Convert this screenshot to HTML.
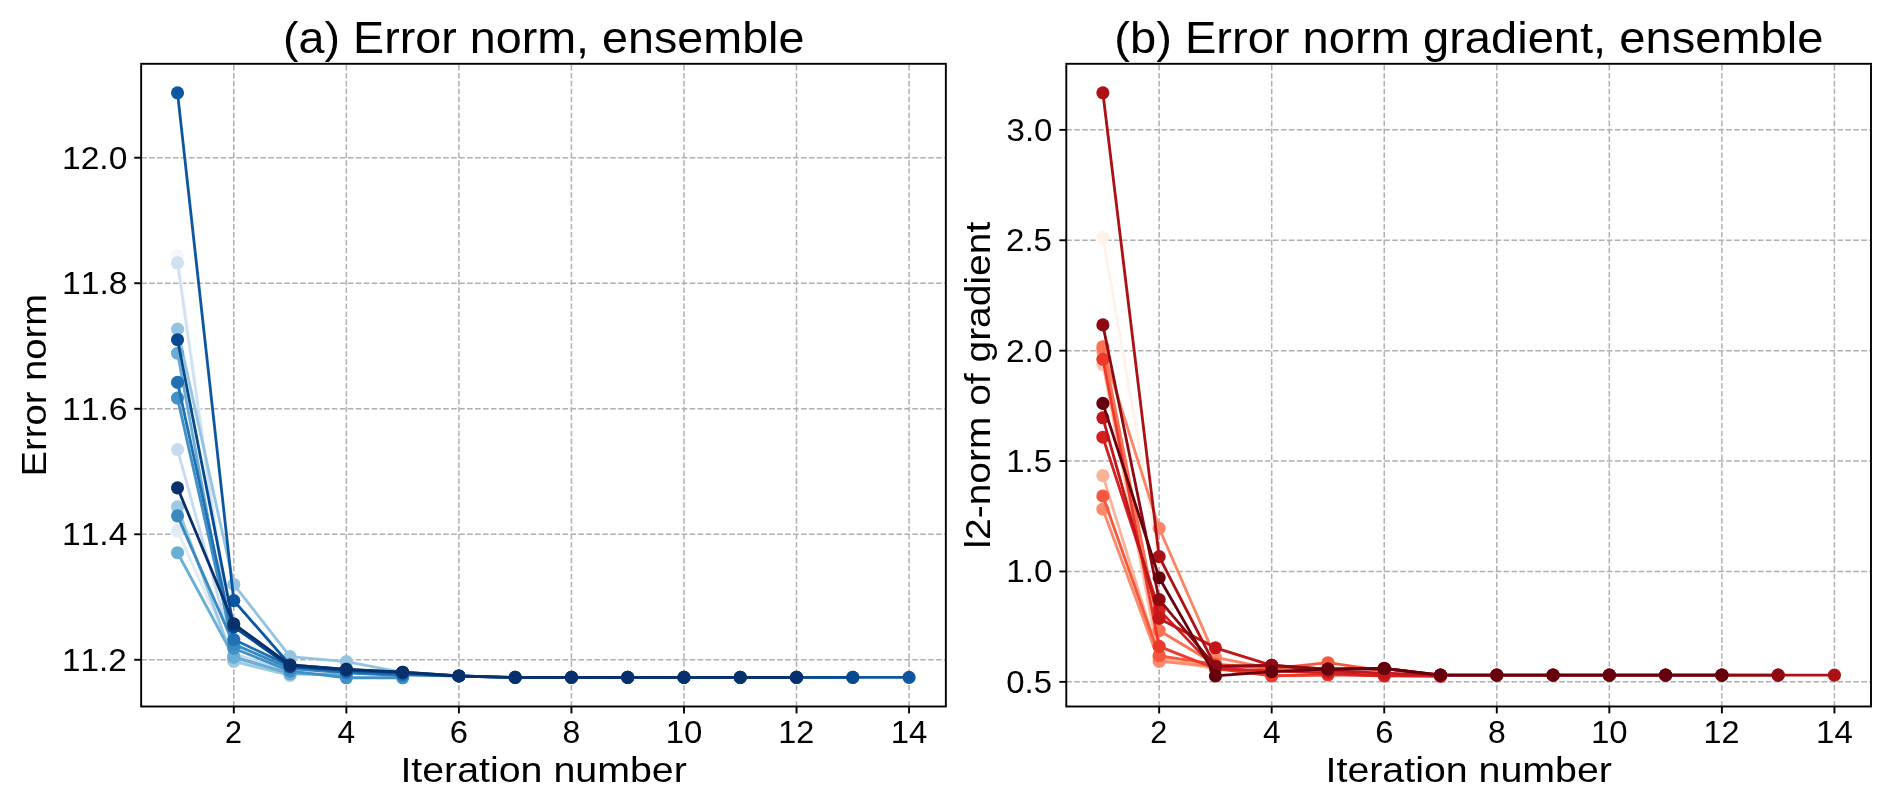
<!DOCTYPE html>
<html><head><meta charset="utf-8"><title>Error norm, ensemble</title>
<style>
html,body{margin:0;padding:0;background:#fff;}
svg{display:block;will-change:transform;}
text{font-family:"Liberation Sans",sans-serif;fill:#000;font-kerning:none;}
</style></head>
<body>
<svg width="1892" height="801" viewBox="0 0 1892 801">
<rect width="1892" height="801" fill="#fff"/>
<line x1="233.80" y1="706.50" x2="233.80" y2="63.80" stroke="#b0b0b0" stroke-width="1.500" stroke-dasharray="5.550 2.400"/>
<line x1="346.35" y1="706.50" x2="346.35" y2="63.80" stroke="#b0b0b0" stroke-width="1.500" stroke-dasharray="5.550 2.400"/>
<line x1="458.89" y1="706.50" x2="458.89" y2="63.80" stroke="#b0b0b0" stroke-width="1.500" stroke-dasharray="5.550 2.400"/>
<line x1="571.44" y1="706.50" x2="571.44" y2="63.80" stroke="#b0b0b0" stroke-width="1.500" stroke-dasharray="5.550 2.400"/>
<line x1="683.98" y1="706.50" x2="683.98" y2="63.80" stroke="#b0b0b0" stroke-width="1.500" stroke-dasharray="5.550 2.400"/>
<line x1="796.53" y1="706.50" x2="796.53" y2="63.80" stroke="#b0b0b0" stroke-width="1.500" stroke-dasharray="5.550 2.400"/>
<line x1="909.07" y1="706.50" x2="909.07" y2="63.80" stroke="#b0b0b0" stroke-width="1.500" stroke-dasharray="5.550 2.400"/>
<line x1="141.15" y1="659.79" x2="945.85" y2="659.79" stroke="#b0b0b0" stroke-width="1.500" stroke-dasharray="5.550 2.400"/>
<line x1="141.15" y1="534.27" x2="945.85" y2="534.27" stroke="#b0b0b0" stroke-width="1.500" stroke-dasharray="5.550 2.400"/>
<line x1="141.15" y1="408.76" x2="945.85" y2="408.76" stroke="#b0b0b0" stroke-width="1.500" stroke-dasharray="5.550 2.400"/>
<line x1="141.15" y1="283.24" x2="945.85" y2="283.24" stroke="#b0b0b0" stroke-width="1.500" stroke-dasharray="5.550 2.400"/>
<line x1="141.15" y1="157.73" x2="945.85" y2="157.73" stroke="#b0b0b0" stroke-width="1.500" stroke-dasharray="5.550 2.400"/>
<polyline points="177.53,255.63 233.80,650.38 290.07,669.20 346.35,674.22" fill="none" stroke="#f2f7fd" stroke-width="2.812" stroke-linejoin="round" stroke-linecap="butt"/>
<circle cx="177.53" cy="255.63" r="6.562" fill="#f2f7fd"/>
<circle cx="233.80" cy="650.38" r="6.562" fill="#f2f7fd"/>
<circle cx="290.07" cy="669.20" r="6.562" fill="#f2f7fd"/>
<circle cx="346.35" cy="674.22" r="6.562" fill="#f2f7fd"/>
<polyline points="177.53,530.82 233.80,656.65 290.07,672.34" fill="none" stroke="#dfecf7" stroke-width="2.812" stroke-linejoin="round" stroke-linecap="butt"/>
<circle cx="177.53" cy="530.82" r="6.562" fill="#dfecf7"/>
<circle cx="233.80" cy="656.65" r="6.562" fill="#dfecf7"/>
<circle cx="290.07" cy="672.34" r="6.562" fill="#dfecf7"/>
<polyline points="177.53,262.85 233.80,659.79 290.07,673.60 346.35,675.48" fill="none" stroke="#d0e1f2" stroke-width="2.812" stroke-linejoin="round" stroke-linecap="butt"/>
<circle cx="177.53" cy="262.85" r="6.562" fill="#d0e1f2"/>
<circle cx="233.80" cy="659.79" r="6.562" fill="#d0e1f2"/>
<circle cx="290.07" cy="673.60" r="6.562" fill="#d0e1f2"/>
<circle cx="346.35" cy="675.48" r="6.562" fill="#d0e1f2"/>
<polyline points="177.53,449.55 233.80,653.51 290.07,672.34" fill="none" stroke="#c6dbef" stroke-width="2.812" stroke-linejoin="round" stroke-linecap="butt"/>
<circle cx="177.53" cy="449.55" r="6.562" fill="#c6dbef"/>
<circle cx="233.80" cy="653.51" r="6.562" fill="#c6dbef"/>
<circle cx="290.07" cy="672.34" r="6.562" fill="#c6dbef"/>
<polyline points="177.53,506.79 233.80,661.42 290.07,675.48" fill="none" stroke="#9dcae1" stroke-width="2.812" stroke-linejoin="round" stroke-linecap="butt"/>
<circle cx="177.53" cy="506.79" r="6.562" fill="#9dcae1"/>
<circle cx="233.80" cy="661.42" r="6.562" fill="#9dcae1"/>
<circle cx="290.07" cy="675.48" r="6.562" fill="#9dcae1"/>
<polyline points="177.53,329.18 233.80,584.48 290.07,656.53 346.35,661.67 402.62,672.34" fill="none" stroke="#94c4df" stroke-width="2.812" stroke-linejoin="round" stroke-linecap="butt"/>
<circle cx="177.53" cy="329.18" r="6.562" fill="#94c4df"/>
<circle cx="233.80" cy="584.48" r="6.562" fill="#94c4df"/>
<circle cx="290.07" cy="656.53" r="6.562" fill="#94c4df"/>
<circle cx="346.35" cy="661.67" r="6.562" fill="#94c4df"/>
<circle cx="402.62" cy="672.34" r="6.562" fill="#94c4df"/>
<polyline points="177.53,353.22 233.80,657.03 290.07,673.60 346.35,674.85" fill="none" stroke="#6aaed6" stroke-width="2.812" stroke-linejoin="round" stroke-linecap="butt"/>
<circle cx="177.53" cy="353.22" r="6.562" fill="#6aaed6"/>
<circle cx="233.80" cy="657.03" r="6.562" fill="#6aaed6"/>
<circle cx="290.07" cy="673.60" r="6.562" fill="#6aaed6"/>
<circle cx="346.35" cy="674.85" r="6.562" fill="#6aaed6"/>
<polyline points="177.53,552.73 233.80,657.03 290.07,673.60" fill="none" stroke="#6aaed6" stroke-width="2.812" stroke-linejoin="round" stroke-linecap="butt"/>
<circle cx="177.53" cy="552.73" r="6.562" fill="#6aaed6"/>
<circle cx="233.80" cy="657.03" r="6.562" fill="#6aaed6"/>
<circle cx="290.07" cy="673.60" r="6.562" fill="#6aaed6"/>
<polyline points="177.53,398.09 233.80,648.31 290.07,671.09 346.35,677.74 402.62,677.74" fill="none" stroke="#4191c6" stroke-width="2.812" stroke-linejoin="round" stroke-linecap="butt"/>
<circle cx="177.53" cy="398.09" r="6.562" fill="#4191c6"/>
<circle cx="233.80" cy="648.31" r="6.562" fill="#4191c6"/>
<circle cx="290.07" cy="671.09" r="6.562" fill="#4191c6"/>
<circle cx="346.35" cy="677.74" r="6.562" fill="#4191c6"/>
<circle cx="402.62" cy="677.74" r="6.562" fill="#4191c6"/>
<polyline points="177.53,515.82 233.80,644.10 290.07,668.58 346.35,672.97 402.62,675.48" fill="none" stroke="#3989c1" stroke-width="2.812" stroke-linejoin="round" stroke-linecap="butt"/>
<circle cx="177.53" cy="515.82" r="6.562" fill="#3989c1"/>
<circle cx="233.80" cy="644.10" r="6.562" fill="#3989c1"/>
<circle cx="290.07" cy="668.58" r="6.562" fill="#3989c1"/>
<circle cx="346.35" cy="672.97" r="6.562" fill="#3989c1"/>
<circle cx="402.62" cy="675.48" r="6.562" fill="#3989c1"/>
<polyline points="177.53,382.40 233.80,639.52 290.07,666.07 346.35,672.34 402.62,674.85 458.89,675.98" fill="none" stroke="#2070b4" stroke-width="2.812" stroke-linejoin="round" stroke-linecap="butt"/>
<circle cx="177.53" cy="382.40" r="6.562" fill="#2070b4"/>
<circle cx="233.80" cy="639.52" r="6.562" fill="#2070b4"/>
<circle cx="290.07" cy="666.07" r="6.562" fill="#2070b4"/>
<circle cx="346.35" cy="672.34" r="6.562" fill="#2070b4"/>
<circle cx="402.62" cy="674.85" r="6.562" fill="#2070b4"/>
<circle cx="458.89" cy="675.98" r="6.562" fill="#2070b4"/>
<polyline points="177.53,92.78 233.80,600.61 290.07,665.00 346.35,669.39 402.62,672.22 458.89,675.98 515.16,677.42 571.44,677.42 627.71,677.42 683.98,677.42 740.25,677.42 796.53,677.42 852.80,677.42 909.07,677.42" fill="none" stroke="#0d57a1" stroke-width="2.812" stroke-linejoin="round" stroke-linecap="butt"/>
<circle cx="177.53" cy="92.78" r="6.562" fill="#0d57a1"/>
<circle cx="233.80" cy="600.61" r="6.562" fill="#0d57a1"/>
<circle cx="290.07" cy="665.00" r="6.562" fill="#0d57a1"/>
<circle cx="346.35" cy="669.39" r="6.562" fill="#0d57a1"/>
<circle cx="402.62" cy="672.22" r="6.562" fill="#0d57a1"/>
<circle cx="458.89" cy="675.98" r="6.562" fill="#0d57a1"/>
<circle cx="515.16" cy="677.42" r="6.562" fill="#0d57a1"/>
<circle cx="571.44" cy="677.42" r="6.562" fill="#0d57a1"/>
<circle cx="627.71" cy="677.42" r="6.562" fill="#0d57a1"/>
<circle cx="683.98" cy="677.42" r="6.562" fill="#0d57a1"/>
<circle cx="740.25" cy="677.42" r="6.562" fill="#0d57a1"/>
<circle cx="796.53" cy="677.42" r="6.562" fill="#0d57a1"/>
<circle cx="852.80" cy="677.42" r="6.562" fill="#0d57a1"/>
<circle cx="909.07" cy="677.42" r="6.562" fill="#0d57a1"/>
<polyline points="177.53,339.73 233.80,626.91 290.07,666.69 346.35,670.46 402.62,672.97 458.89,675.98 515.16,677.42 571.44,677.42 627.71,677.42 683.98,677.42 740.25,677.42 796.53,677.42 852.80,677.42" fill="none" stroke="#084a91" stroke-width="2.812" stroke-linejoin="round" stroke-linecap="butt"/>
<circle cx="177.53" cy="339.73" r="6.562" fill="#084a91"/>
<circle cx="233.80" cy="626.91" r="6.562" fill="#084a91"/>
<circle cx="290.07" cy="666.69" r="6.562" fill="#084a91"/>
<circle cx="346.35" cy="670.46" r="6.562" fill="#084a91"/>
<circle cx="402.62" cy="672.97" r="6.562" fill="#084a91"/>
<circle cx="458.89" cy="675.98" r="6.562" fill="#084a91"/>
<circle cx="515.16" cy="677.42" r="6.562" fill="#084a91"/>
<circle cx="571.44" cy="677.42" r="6.562" fill="#084a91"/>
<circle cx="627.71" cy="677.42" r="6.562" fill="#084a91"/>
<circle cx="683.98" cy="677.42" r="6.562" fill="#084a91"/>
<circle cx="740.25" cy="677.42" r="6.562" fill="#084a91"/>
<circle cx="796.53" cy="677.42" r="6.562" fill="#084a91"/>
<circle cx="852.80" cy="677.42" r="6.562" fill="#084a91"/>
<polyline points="177.53,487.83 233.80,623.77 290.07,665.00 346.35,669.39 402.62,672.22 458.89,675.98 515.16,677.42 571.44,677.42 627.71,677.42 683.98,677.42 740.25,677.42 796.53,677.42" fill="none" stroke="#08306b" stroke-width="2.812" stroke-linejoin="round" stroke-linecap="butt"/>
<circle cx="177.53" cy="487.83" r="6.562" fill="#08306b"/>
<circle cx="233.80" cy="623.77" r="6.562" fill="#08306b"/>
<circle cx="290.07" cy="665.00" r="6.562" fill="#08306b"/>
<circle cx="346.35" cy="669.39" r="6.562" fill="#08306b"/>
<circle cx="402.62" cy="672.22" r="6.562" fill="#08306b"/>
<circle cx="458.89" cy="675.98" r="6.562" fill="#08306b"/>
<circle cx="515.16" cy="677.42" r="6.562" fill="#08306b"/>
<circle cx="571.44" cy="677.42" r="6.562" fill="#08306b"/>
<circle cx="627.71" cy="677.42" r="6.562" fill="#08306b"/>
<circle cx="683.98" cy="677.42" r="6.562" fill="#08306b"/>
<circle cx="740.25" cy="677.42" r="6.562" fill="#08306b"/>
<circle cx="796.53" cy="677.42" r="6.562" fill="#08306b"/>
<rect x="141.15" y="63.80" width="804.70" height="642.70" fill="none" stroke="#000" stroke-width="1.900" stroke-linejoin="miter"/>
<line x1="233.80" y1="706.50" x2="233.80" y2="713.40" stroke="#000" stroke-width="1.900"/>
<line x1="346.35" y1="706.50" x2="346.35" y2="713.40" stroke="#000" stroke-width="1.900"/>
<line x1="458.89" y1="706.50" x2="458.89" y2="713.40" stroke="#000" stroke-width="1.900"/>
<line x1="571.44" y1="706.50" x2="571.44" y2="713.40" stroke="#000" stroke-width="1.900"/>
<line x1="683.98" y1="706.50" x2="683.98" y2="713.40" stroke="#000" stroke-width="1.900"/>
<line x1="796.53" y1="706.50" x2="796.53" y2="713.40" stroke="#000" stroke-width="1.900"/>
<line x1="909.07" y1="706.50" x2="909.07" y2="713.40" stroke="#000" stroke-width="1.900"/>
<line x1="134.25" y1="659.79" x2="141.15" y2="659.79" stroke="#000" stroke-width="1.900"/>
<line x1="134.25" y1="534.27" x2="141.15" y2="534.27" stroke="#000" stroke-width="1.900"/>
<line x1="134.25" y1="408.76" x2="141.15" y2="408.76" stroke="#000" stroke-width="1.900"/>
<line x1="134.25" y1="283.24" x2="141.15" y2="283.24" stroke="#000" stroke-width="1.900"/>
<line x1="134.25" y1="157.73" x2="141.15" y2="157.73" stroke="#000" stroke-width="1.900"/>
<text transform="translate(224.92,742.70) scale(0.9589,1)" font-size="31.79">2</text>
<text transform="translate(337.54,742.70) scale(0.9950,1)" font-size="31.79">4</text>
<text transform="translate(449.78,742.70) scale(1.0296,1)" font-size="31.79">6</text>
<text transform="translate(562.54,742.70) scale(1.0056,1)" font-size="31.79">8</text>
<text transform="translate(665.68,742.70) scale(1.0376,1)" font-size="31.79">10</text>
<text transform="translate(778.27,742.70) scale(1.0171,1)" font-size="31.79">12</text>
<text transform="translate(890.77,742.70) scale(1.0371,1)" font-size="31.79">14</text>
<text transform="translate(62.00,670.69) scale(1.0458,1)" font-size="31.79">11.2</text>
<text transform="translate(61.98,545.17) scale(1.0564,1)" font-size="31.79">11.4</text>
<text transform="translate(61.97,419.66) scale(1.0613,1)" font-size="31.79">11.6</text>
<text transform="translate(61.97,294.14) scale(1.0583,1)" font-size="31.79">11.8</text>
<text transform="translate(61.98,168.63) scale(1.0568,1)" font-size="31.79">12.0</text>
<text transform="translate(400.38,781.60) scale(1.1005,1)" font-size="35.76">Iteration number</text>
<text transform="translate(283.04,52.60) scale(1.0680,1)" font-size="43.71">(a) Error norm, ensemble</text>
<text transform="rotate(-90) translate(-476.53,45.70) scale(1.0686,1)" font-size="35.76">Error norm</text>
<line x1="1159.15" y1="706.50" x2="1159.15" y2="63.80" stroke="#b0b0b0" stroke-width="1.500" stroke-dasharray="5.550 2.400"/>
<line x1="1271.70" y1="706.50" x2="1271.70" y2="63.80" stroke="#b0b0b0" stroke-width="1.500" stroke-dasharray="5.550 2.400"/>
<line x1="1384.24" y1="706.50" x2="1384.24" y2="63.80" stroke="#b0b0b0" stroke-width="1.500" stroke-dasharray="5.550 2.400"/>
<line x1="1496.79" y1="706.50" x2="1496.79" y2="63.80" stroke="#b0b0b0" stroke-width="1.500" stroke-dasharray="5.550 2.400"/>
<line x1="1609.33" y1="706.50" x2="1609.33" y2="63.80" stroke="#b0b0b0" stroke-width="1.500" stroke-dasharray="5.550 2.400"/>
<line x1="1721.88" y1="706.50" x2="1721.88" y2="63.80" stroke="#b0b0b0" stroke-width="1.500" stroke-dasharray="5.550 2.400"/>
<line x1="1834.42" y1="706.50" x2="1834.42" y2="63.80" stroke="#b0b0b0" stroke-width="1.500" stroke-dasharray="5.550 2.400"/>
<line x1="1066.30" y1="681.86" x2="1871.00" y2="681.86" stroke="#b0b0b0" stroke-width="1.500" stroke-dasharray="5.550 2.400"/>
<line x1="1066.30" y1="571.46" x2="1871.00" y2="571.46" stroke="#b0b0b0" stroke-width="1.500" stroke-dasharray="5.550 2.400"/>
<line x1="1066.30" y1="461.06" x2="1871.00" y2="461.06" stroke="#b0b0b0" stroke-width="1.500" stroke-dasharray="5.550 2.400"/>
<line x1="1066.30" y1="350.66" x2="1871.00" y2="350.66" stroke="#b0b0b0" stroke-width="1.500" stroke-dasharray="5.550 2.400"/>
<line x1="1066.30" y1="240.26" x2="1871.00" y2="240.26" stroke="#b0b0b0" stroke-width="1.500" stroke-dasharray="5.550 2.400"/>
<line x1="1066.30" y1="129.86" x2="1871.00" y2="129.86" stroke="#b0b0b0" stroke-width="1.500" stroke-dasharray="5.550 2.400"/>
<polyline points="1102.88,237.61 1159.15,560.42 1215.42,659.78 1271.70,668.61" fill="none" stroke="#fff2eb" stroke-width="2.812" stroke-linejoin="round" stroke-linecap="butt"/>
<circle cx="1102.88" cy="237.61" r="6.562" fill="#fff2eb"/>
<circle cx="1159.15" cy="560.42" r="6.562" fill="#fff2eb"/>
<circle cx="1215.42" cy="659.78" r="6.562" fill="#fff2eb"/>
<circle cx="1271.70" cy="668.61" r="6.562" fill="#fff2eb"/>
<polyline points="1102.88,364.57 1159.15,659.78 1215.42,668.61" fill="none" stroke="#fcc4ad" stroke-width="2.812" stroke-linejoin="round" stroke-linecap="butt"/>
<circle cx="1102.88" cy="364.57" r="6.562" fill="#fcc4ad"/>
<circle cx="1159.15" cy="659.78" r="6.562" fill="#fcc4ad"/>
<circle cx="1215.42" cy="668.61" r="6.562" fill="#fcc4ad"/>
<polyline points="1102.88,352.87 1159.15,655.36 1215.42,666.40" fill="none" stroke="#fcbba1" stroke-width="2.812" stroke-linejoin="round" stroke-linecap="butt"/>
<circle cx="1102.88" cy="352.87" r="6.562" fill="#fcbba1"/>
<circle cx="1159.15" cy="655.36" r="6.562" fill="#fcbba1"/>
<circle cx="1215.42" cy="666.40" r="6.562" fill="#fcbba1"/>
<polyline points="1102.88,475.63 1159.15,657.57 1215.42,668.61" fill="none" stroke="#fcb296" stroke-width="2.812" stroke-linejoin="round" stroke-linecap="butt"/>
<circle cx="1102.88" cy="475.63" r="6.562" fill="#fcb296"/>
<circle cx="1159.15" cy="657.57" r="6.562" fill="#fcb296"/>
<circle cx="1215.42" cy="668.61" r="6.562" fill="#fcb296"/>
<polyline points="1102.88,509.19 1159.15,661.39 1215.42,666.40" fill="none" stroke="#fc8a6a" stroke-width="2.812" stroke-linejoin="round" stroke-linecap="butt"/>
<circle cx="1102.88" cy="509.19" r="6.562" fill="#fc8a6a"/>
<circle cx="1159.15" cy="661.39" r="6.562" fill="#fc8a6a"/>
<circle cx="1215.42" cy="666.40" r="6.562" fill="#fc8a6a"/>
<polyline points="1102.88,349.56 1159.15,528.29 1215.42,657.40 1271.70,668.61 1327.97,671.92" fill="none" stroke="#fc8464" stroke-width="2.812" stroke-linejoin="round" stroke-linecap="butt"/>
<circle cx="1102.88" cy="349.56" r="6.562" fill="#fc8464"/>
<circle cx="1159.15" cy="528.29" r="6.562" fill="#fc8464"/>
<circle cx="1215.42" cy="657.40" r="6.562" fill="#fc8464"/>
<circle cx="1271.70" cy="668.61" r="6.562" fill="#fc8464"/>
<circle cx="1327.97" cy="671.92" r="6.562" fill="#fc8464"/>
<polyline points="1102.88,346.69 1159.15,630.50 1215.42,664.20 1271.70,675.74 1327.97,674.79" fill="none" stroke="#fb7151" stroke-width="2.812" stroke-linejoin="round" stroke-linecap="butt"/>
<circle cx="1102.88" cy="346.69" r="6.562" fill="#fb7151"/>
<circle cx="1159.15" cy="630.50" r="6.562" fill="#fb7151"/>
<circle cx="1215.42" cy="664.20" r="6.562" fill="#fb7151"/>
<circle cx="1271.70" cy="675.74" r="6.562" fill="#fb7151"/>
<circle cx="1327.97" cy="674.79" r="6.562" fill="#fb7151"/>
<polyline points="1102.88,495.95 1159.15,655.81 1215.42,664.20 1271.70,668.61 1327.97,662.69 1384.24,670.82" fill="none" stroke="#f6583e" stroke-width="2.812" stroke-linejoin="round" stroke-linecap="butt"/>
<circle cx="1102.88" cy="495.95" r="6.562" fill="#f6583e"/>
<circle cx="1159.15" cy="655.81" r="6.562" fill="#f6583e"/>
<circle cx="1215.42" cy="664.20" r="6.562" fill="#f6583e"/>
<circle cx="1271.70" cy="668.61" r="6.562" fill="#f6583e"/>
<circle cx="1327.97" cy="662.69" r="6.562" fill="#f6583e"/>
<circle cx="1384.24" cy="670.82" r="6.562" fill="#f6583e"/>
<polyline points="1102.88,359.27 1159.15,646.40 1215.42,668.61 1271.70,675.74 1327.97,674.79 1384.24,675.74" fill="none" stroke="#ed392b" stroke-width="2.812" stroke-linejoin="round" stroke-linecap="butt"/>
<circle cx="1102.88" cy="359.27" r="6.562" fill="#ed392b"/>
<circle cx="1159.15" cy="646.40" r="6.562" fill="#ed392b"/>
<circle cx="1215.42" cy="668.61" r="6.562" fill="#ed392b"/>
<circle cx="1271.70" cy="675.74" r="6.562" fill="#ed392b"/>
<circle cx="1327.97" cy="674.79" r="6.562" fill="#ed392b"/>
<circle cx="1384.24" cy="675.74" r="6.562" fill="#ed392b"/>
<polyline points="1102.88,437.21 1159.15,609.90 1215.42,668.61 1271.70,670.82 1327.97,673.03 1384.24,675.74 1440.51,676.34" fill="none" stroke="#d32020" stroke-width="2.812" stroke-linejoin="round" stroke-linecap="butt"/>
<circle cx="1102.88" cy="437.21" r="6.562" fill="#d32020"/>
<circle cx="1159.15" cy="609.90" r="6.562" fill="#d32020"/>
<circle cx="1215.42" cy="668.61" r="6.562" fill="#d32020"/>
<circle cx="1271.70" cy="670.82" r="6.562" fill="#d32020"/>
<circle cx="1327.97" cy="673.03" r="6.562" fill="#d32020"/>
<circle cx="1384.24" cy="675.74" r="6.562" fill="#d32020"/>
<circle cx="1440.51" cy="676.34" r="6.562" fill="#d32020"/>
<polyline points="1102.88,417.78 1159.15,618.40 1215.42,647.79 1271.70,665.37 1327.97,670.82 1384.24,673.03 1440.51,675.24" fill="none" stroke="#c2161b" stroke-width="2.812" stroke-linejoin="round" stroke-linecap="butt"/>
<circle cx="1102.88" cy="417.78" r="6.562" fill="#c2161b"/>
<circle cx="1159.15" cy="618.40" r="6.562" fill="#c2161b"/>
<circle cx="1215.42" cy="647.79" r="6.562" fill="#c2161b"/>
<circle cx="1271.70" cy="665.37" r="6.562" fill="#c2161b"/>
<circle cx="1327.97" cy="670.82" r="6.562" fill="#c2161b"/>
<circle cx="1384.24" cy="673.03" r="6.562" fill="#c2161b"/>
<circle cx="1440.51" cy="675.24" r="6.562" fill="#c2161b"/>
<polyline points="1102.88,92.77 1159.15,556.60 1215.42,666.29 1271.70,665.37 1327.97,669.05 1384.24,668.50 1440.51,675.13 1496.79,675.13 1553.06,675.13 1609.33,675.13 1665.60,675.13 1721.88,675.13 1778.15,675.13 1834.42,675.13" fill="none" stroke="#ac1117" stroke-width="2.812" stroke-linejoin="round" stroke-linecap="butt"/>
<circle cx="1102.88" cy="92.77" r="6.562" fill="#ac1117"/>
<circle cx="1159.15" cy="556.60" r="6.562" fill="#ac1117"/>
<circle cx="1215.42" cy="666.29" r="6.562" fill="#ac1117"/>
<circle cx="1271.70" cy="665.37" r="6.562" fill="#ac1117"/>
<circle cx="1327.97" cy="669.05" r="6.562" fill="#ac1117"/>
<circle cx="1384.24" cy="668.50" r="6.562" fill="#ac1117"/>
<circle cx="1440.51" cy="675.13" r="6.562" fill="#ac1117"/>
<circle cx="1496.79" cy="675.13" r="6.562" fill="#ac1117"/>
<circle cx="1553.06" cy="675.13" r="6.562" fill="#ac1117"/>
<circle cx="1609.33" cy="675.13" r="6.562" fill="#ac1117"/>
<circle cx="1665.60" cy="675.13" r="6.562" fill="#ac1117"/>
<circle cx="1721.88" cy="675.13" r="6.562" fill="#ac1117"/>
<circle cx="1778.15" cy="675.13" r="6.562" fill="#ac1117"/>
<circle cx="1834.42" cy="675.13" r="6.562" fill="#ac1117"/>
<polyline points="1102.88,324.91 1159.15,599.59 1215.42,666.29 1271.70,665.37 1327.97,669.05 1384.24,668.50 1440.51,675.13 1496.79,675.13 1553.06,675.13 1609.33,675.13 1665.60,675.13 1721.88,675.13 1778.15,675.13" fill="none" stroke="#8e0912" stroke-width="2.812" stroke-linejoin="round" stroke-linecap="butt"/>
<circle cx="1102.88" cy="324.91" r="6.562" fill="#8e0912"/>
<circle cx="1159.15" cy="599.59" r="6.562" fill="#8e0912"/>
<circle cx="1215.42" cy="666.29" r="6.562" fill="#8e0912"/>
<circle cx="1271.70" cy="665.37" r="6.562" fill="#8e0912"/>
<circle cx="1327.97" cy="669.05" r="6.562" fill="#8e0912"/>
<circle cx="1384.24" cy="668.50" r="6.562" fill="#8e0912"/>
<circle cx="1440.51" cy="675.13" r="6.562" fill="#8e0912"/>
<circle cx="1496.79" cy="675.13" r="6.562" fill="#8e0912"/>
<circle cx="1553.06" cy="675.13" r="6.562" fill="#8e0912"/>
<circle cx="1609.33" cy="675.13" r="6.562" fill="#8e0912"/>
<circle cx="1665.60" cy="675.13" r="6.562" fill="#8e0912"/>
<circle cx="1721.88" cy="675.13" r="6.562" fill="#8e0912"/>
<circle cx="1778.15" cy="675.13" r="6.562" fill="#8e0912"/>
<polyline points="1102.88,403.43 1159.15,577.69 1215.42,675.90 1271.70,671.70 1327.97,669.05 1384.24,668.50 1440.51,675.13 1496.79,675.13 1553.06,675.13 1609.33,675.13 1665.60,675.13 1721.88,675.13" fill="none" stroke="#67000d" stroke-width="2.812" stroke-linejoin="round" stroke-linecap="butt"/>
<circle cx="1102.88" cy="403.43" r="6.562" fill="#67000d"/>
<circle cx="1159.15" cy="577.69" r="6.562" fill="#67000d"/>
<circle cx="1215.42" cy="675.90" r="6.562" fill="#67000d"/>
<circle cx="1271.70" cy="671.70" r="6.562" fill="#67000d"/>
<circle cx="1327.97" cy="669.05" r="6.562" fill="#67000d"/>
<circle cx="1384.24" cy="668.50" r="6.562" fill="#67000d"/>
<circle cx="1440.51" cy="675.13" r="6.562" fill="#67000d"/>
<circle cx="1496.79" cy="675.13" r="6.562" fill="#67000d"/>
<circle cx="1553.06" cy="675.13" r="6.562" fill="#67000d"/>
<circle cx="1609.33" cy="675.13" r="6.562" fill="#67000d"/>
<circle cx="1665.60" cy="675.13" r="6.562" fill="#67000d"/>
<circle cx="1721.88" cy="675.13" r="6.562" fill="#67000d"/>
<rect x="1066.30" y="63.80" width="804.70" height="642.70" fill="none" stroke="#000" stroke-width="1.900" stroke-linejoin="miter"/>
<line x1="1159.15" y1="706.50" x2="1159.15" y2="713.40" stroke="#000" stroke-width="1.900"/>
<line x1="1271.70" y1="706.50" x2="1271.70" y2="713.40" stroke="#000" stroke-width="1.900"/>
<line x1="1384.24" y1="706.50" x2="1384.24" y2="713.40" stroke="#000" stroke-width="1.900"/>
<line x1="1496.79" y1="706.50" x2="1496.79" y2="713.40" stroke="#000" stroke-width="1.900"/>
<line x1="1609.33" y1="706.50" x2="1609.33" y2="713.40" stroke="#000" stroke-width="1.900"/>
<line x1="1721.88" y1="706.50" x2="1721.88" y2="713.40" stroke="#000" stroke-width="1.900"/>
<line x1="1834.42" y1="706.50" x2="1834.42" y2="713.40" stroke="#000" stroke-width="1.900"/>
<line x1="1059.40" y1="681.86" x2="1066.30" y2="681.86" stroke="#000" stroke-width="1.900"/>
<line x1="1059.40" y1="571.46" x2="1066.30" y2="571.46" stroke="#000" stroke-width="1.900"/>
<line x1="1059.40" y1="461.06" x2="1066.30" y2="461.06" stroke="#000" stroke-width="1.900"/>
<line x1="1059.40" y1="350.66" x2="1066.30" y2="350.66" stroke="#000" stroke-width="1.900"/>
<line x1="1059.40" y1="240.26" x2="1066.30" y2="240.26" stroke="#000" stroke-width="1.900"/>
<line x1="1059.40" y1="129.86" x2="1066.30" y2="129.86" stroke="#000" stroke-width="1.900"/>
<text transform="translate(1150.27,742.70) scale(0.9589,1)" font-size="31.79">2</text>
<text transform="translate(1262.89,742.70) scale(0.9950,1)" font-size="31.79">4</text>
<text transform="translate(1375.13,742.70) scale(1.0296,1)" font-size="31.79">6</text>
<text transform="translate(1487.89,742.70) scale(1.0056,1)" font-size="31.79">8</text>
<text transform="translate(1591.03,742.70) scale(1.0376,1)" font-size="31.79">10</text>
<text transform="translate(1703.62,742.70) scale(1.0171,1)" font-size="31.79">12</text>
<text transform="translate(1816.12,742.70) scale(1.0371,1)" font-size="31.79">14</text>
<text transform="translate(1006.17,692.76) scale(1.0360,1)" font-size="31.79">0.5</text>
<text transform="translate(1006.24,582.36) scale(1.0468,1)" font-size="31.79">1.0</text>
<text transform="translate(1006.27,471.96) scale(1.0336,1)" font-size="31.79">1.5</text>
<text transform="translate(1005.99,361.56) scale(1.0525,1)" font-size="31.79">2.0</text>
<text transform="translate(1006.01,251.16) scale(1.0396,1)" font-size="31.79">2.5</text>
<text transform="translate(1006.50,140.76) scale(1.0406,1)" font-size="31.79">3.0</text>
<text transform="translate(1325.53,781.60) scale(1.1005,1)" font-size="35.76">Iteration number</text>
<text transform="translate(1114.28,52.60) scale(1.0774,1)" font-size="43.71">(b) Error norm gradient, ensemble</text>
<text transform="rotate(-90) translate(-548.58,990.00) scale(1.0891,1)" font-size="35.76">l2-norm of gradient</text>
</svg>
</body></html>
